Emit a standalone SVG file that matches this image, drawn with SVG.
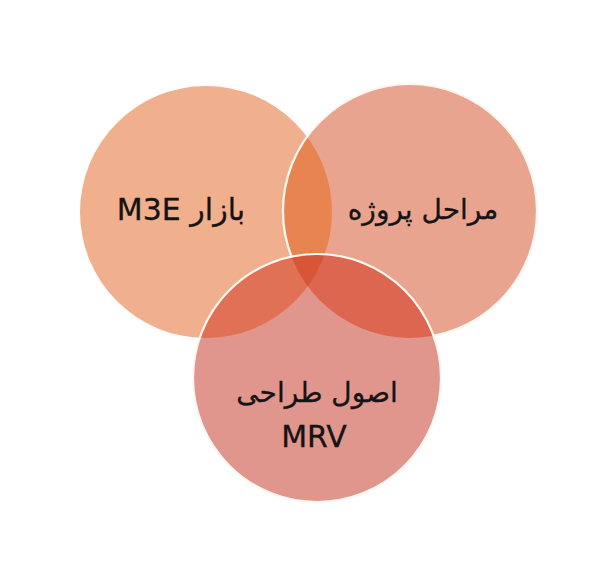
<svg xmlns="http://www.w3.org/2000/svg" width="607" height="572" viewBox="0 0 607 572">
  <style>
    .lbl { font-family: "DejaVu Sans", "Noto Sans", sans-serif; font-size: 30px; fill: #141414; stroke: #141414; stroke-width: 0.3; text-anchor: middle; }
    .ar { font-size: 28px; }
    .edge { fill: none; stroke: #FFF8F2; stroke-width: 2.2; }
  </style>
  <defs>
    <clipPath id="clipL"><circle cx="206" cy="212" r="126"/></clipPath>
    <clipPath id="clipR"><circle cx="410" cy="211" r="127"/></clipPath>
    <clipPath id="clipB"><circle cx="317" cy="378" r="124"/></clipPath>
  </defs>
  <rect width="607" height="572" fill="#ffffff"/>

  <g id="node-market">
    <circle cx="206" cy="212" r="126" fill="#F1B08D"/>
    <text class="lbl" x="181" y="220" direction="rtl">بازار M3E</text>
  </g>

  <g id="node-phases">
    <circle cx="410" cy="211" r="127" fill="#E9A48F"/>
    <text class="lbl ar" x="423" y="219" direction="rtl">مراحل پروژه</text>
  </g>

  <g id="overlap-market-phases">
    <g clip-path="url(#clipL)"><circle cx="410" cy="211" r="127" fill="#E8844F"/></g>
    <circle class="edge" cx="410" cy="211" r="127"/>
  </g>

  <g id="node-design">
    <circle cx="317" cy="378" r="124" fill="#E0968C"/>
    <text class="lbl ar" x="317" y="402" direction="rtl">اصول طراحی</text>
    <text class="lbl" x="314" y="447">MRV</text>
  </g>

  <g id="overlaps-design">
    <g clip-path="url(#clipB)">
      <circle cx="206" cy="212" r="126" fill="#E07155"/>
      <circle cx="410" cy="211" r="127" fill="#DC6650"/>
      <g clip-path="url(#clipL)"><circle cx="410" cy="211" r="127" fill="#D75638"/></g>
    </g>
    <circle class="edge" cx="317" cy="378" r="124"/>
  </g>
</svg>
